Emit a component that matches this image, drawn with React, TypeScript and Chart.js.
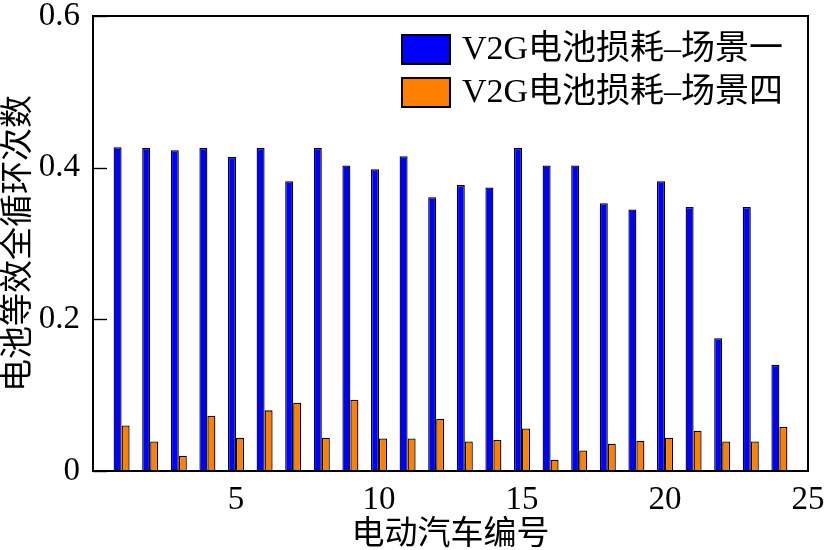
import { useEffect, useRef } from 'react';
import { Chart, registerables } from 'chart.js';

Chart.register(...registerables);

const carIds = [1, 2, 3, 4, 5, 6, 7, 8, 9, 10, 11, 12, 13, 14, 15, 16, 17, 18, 19, 20, 21, 22, 23, 24];
const scenario1Loss = [0.427, 0.426, 0.423, 0.426, 0.414, 0.426, 0.382, 0.426, 0.403, 0.398, 0.415, 0.361, 0.377, 0.374, 0.426, 0.403, 0.403, 0.353, 0.345, 0.382, 0.348, 0.175, 0.348, 0.140];
const scenario4Loss = [0.060, 0.039, 0.020, 0.073, 0.044, 0.080, 0.090, 0.044, 0.094, 0.043, 0.043, 0.069, 0.039, 0.041, 0.056, 0.015, 0.027, 0.036, 0.040, 0.044, 0.053, 0.039, 0.039, 0.058];
const seriesNames = ['V2G电池损耗–场景一', 'V2G电池损耗–场景四'];
const seriesColors = ['#0000FF', '#FF8000'];
const yTickLabels = ['0', '0.2', '0.4', '0.6'];
const yTickValues = [0, 0.2, 0.4, 0.6];
const xTickValues = [5, 10, 15, 20, 25];
const xTitle = '电动汽车编号';
const yTitle = '电池等效全循环次数';

const FONT = '"Liberation Serif", "Noto Sans CJK SC", serif';

const framePlugin = {
  id: 'frame',
  afterDatasetsDraw(chart: any) {
    const { ctx, chartArea } = chart;
    const yScale = chart.scales.y;
    ctx.save();
    ctx.strokeStyle = '#000';
    // inward y tick marks
    ctx.lineWidth = 1.4;
    yTickValues.forEach((v) => {
      const py = Math.round(yScale.getPixelForValue(v)) + 0.5;
      ctx.beginPath();
      ctx.moveTo(chartArea.left, py);
      ctx.lineTo(chartArea.left + 14, py);
      ctx.stroke();
    });
    ctx.lineWidth = 2;
    ctx.strokeRect(chartArea.left, chartArea.top, chartArea.right - chartArea.left, chartArea.bottom - chartArea.top);
    ctx.restore();
  },
};

const insideLegend = {
  id: 'insideLegend',
  afterDraw(chart: any) {
    const { ctx, chartArea } = chart;
    const boxLeft = chartArea.right - 406;
    const boxW = 48;
    const boxH = 29;
    ctx.save();
    ctx.font = `34px ${FONT}`;
    ctx.textBaseline = 'middle';
    ctx.textAlign = 'left';
    chart.data.datasets.forEach((ds: any, i: number) => {
      const top = chartArea.top + 19 + i * 43;
      ctx.fillStyle = ds.backgroundColor;
      ctx.fillRect(boxLeft, top, boxW, boxH);
      ctx.strokeStyle = '#000';
      ctx.lineWidth = 2;
      ctx.strokeRect(boxLeft, top, boxW, boxH);
      ctx.fillStyle = '#000';
      ctx.fillText(ds.label, boxLeft + 60, top + boxH / 2 + 1);
    });
    ctx.restore();
  },
};

export default function App() {
  const ref = useRef<HTMLCanvasElement | null>(null);
  useEffect(() => {
    if (!ref.current) return;
    const chart = new Chart(ref.current, {
      type: 'bar',
      data: {
        datasets: [
          {
            label: seriesNames[0],
            data: carIds.map((id, i) => ({ x: id, y: scenario1Loss[i] })),
            backgroundColor: seriesColors[0],
            borderColor: '#000',
            borderWidth: 1.3,
          },
          {
            label: seriesNames[1],
            data: carIds.map((id, i) => ({ x: id, y: scenario4Loss[i] })),
            backgroundColor: seriesColors[1],
            borderColor: '#000',
            borderWidth: 1.3,
          },
        ],
      },
      options: {
        animation: false,
        responsive: false,
        maintainAspectRatio: false,
        devicePixelRatio: 1,
        categoryPercentage: 0.56,
        barPercentage: 1,
        layout: { padding: { left: 0, top: 16, right: 17, bottom: 0 } },
        plugins: {
          legend: { display: false },
          tooltip: { enabled: false },
        },
        scales: {
          x: {
            type: 'linear',
            min: 0,
            max: 25,
            offset: false,
            grid: { display: false },
            border: { display: false },
            ticks: {
              stepSize: 5,
              padding: 2,
              color: '#000',
              font: { family: FONT, size: 33 },
              maxRotation: 0,
              callback: (v: any) => (xTickValues.includes(Number(v)) ? String(v) : ''),
            },
            title: {
              display: true,
              text: xTitle,
              color: '#000',
              font: { family: FONT, size: 33 },
              padding: { top: 0, bottom: -5 },
            },
            afterFit: (s: any) => {
              s.height = 79;
              s.paddingLeft = 0;
              s.paddingRight = 0;
            },
          },
          y: {
            min: 0,
            max: 0.6,
            grid: { display: false },
            border: { display: false },
            ticks: {
              stepSize: 0.2,
              padding: 5,
              color: '#000',
              font: { family: FONT, size: 33 },
              callback: (v: any) => {
                const idx = yTickValues.findIndex((t) => Math.abs(t - Number(v)) < 1e-6);
                return idx >= 0 ? yTickLabels[idx] : '';
              },
            },
            title: {
              display: true,
              text: yTitle,
              color: '#000',
              font: { family: FONT, size: 33 },
              padding: { top: 0, bottom: 0 },
            },
            afterFit: (s: any) => {
              s.width = 93;
              s.paddingTop = 0;
              s.paddingBottom = 0;
            },
          },
        },
      },
      plugins: [framePlugin, insideLegend],
    } as any);
    return () => chart.destroy();
  }, []);

  return (
    <div style={{ position: 'fixed', left: 0, top: 0, width: 825, height: 550, background: '#fff' }}>
      <canvas ref={ref} width={825} height={550} style={{ display: 'block' }} />
    </div>
  );
}
